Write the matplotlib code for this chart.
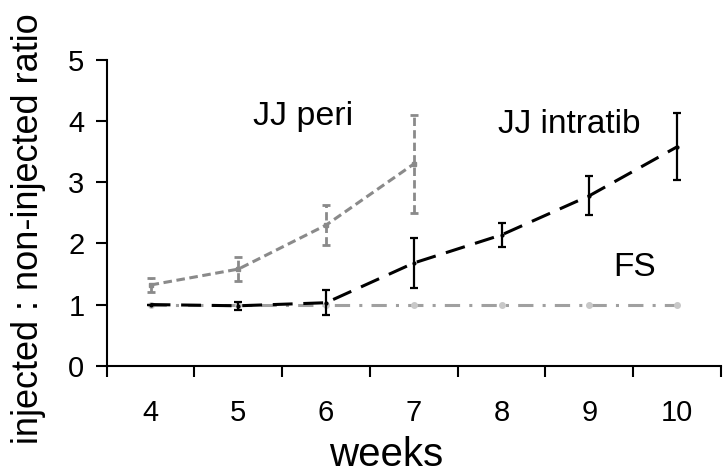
import matplotlib
matplotlib.use("Agg")
import matplotlib.pyplot as plt
import numpy as np

plt.rcParams['font.family'] = ['Liberation Sans', 'DejaVu Sans']

weeks = ["4", "5", "6", "7", "8", "9", "10"]

peri_weeks = [4, 5, 6, 7]
peri_vals = [1.32, 1.58, 2.30, 3.30]
peri_err = [0.12, 0.20, 0.33, 0.80]

intra_weeks = [4, 5, 6, 7, 8, 9, 10]
intra_vals = [1.00, 0.98, 1.03, 1.68, 2.14, 2.78, 3.58]
intra_err = [0.0, 0.07, 0.20, 0.41, 0.20, 0.32, 0.55]

fs_weeks = [4, 5, 6, 7, 8, 9, 10]
fs_vals = [1.0, 1.0, 1.0, 1.0, 1.0, 1.0, 1.0]

fig = plt.figure(figsize=(7.23, 4.73), dpi=100)
ax = fig.add_axes([106.7/723, 1-365.7/473, (721-106.7)/723, (365.7-60)/473])

def xpos(w):
    return np.array(w) - 4

# FS
ax.plot(xpos(fs_weeks), fs_vals, color='#a0a0a0', lw=2.2, dashes=(5, 3, 1, 3),
        marker='o', ms=4, mfc='#c8c8c8', mec='#c8c8c8', zorder=2)

# JJ intratib
ax.errorbar(xpos(intra_weeks), intra_vals, yerr=intra_err, color='black', lw=2.2,
            dashes=(6.5, 3.5), elinewidth=1.6, capsize=3, capthick=1.6,
            marker='o', ms=2, zorder=3)

# JJ peri
eb = ax.errorbar(xpos(peri_weeks), peri_vals, yerr=peri_err, color='#8a8a8a', lw=2.2,
                 dashes=(2.8, 1.5), elinewidth=2.0, capsize=3, capthick=2.0,
                 marker='s', ms=3, zorder=4)
for lc in eb[2]:
    lc.set_linestyle((0, (3, 1.5)))

ax.set_xlim(-0.5, 6.5)
ax.set_ylim(0, 5)
ax.set_yticks([0, 1, 2, 3, 4, 5])
ax.set_xticks(np.arange(7))
ax.set_xticklabels(weeks)
ax.set_xticks(np.arange(-0.5, 7.0, 1.0), minor=True)
ax.tick_params(axis='x', which='major', length=0, labelsize=21, pad=24)
ax.tick_params(axis='x', which='minor', length=8, width=1.5, direction='out')
ax.tick_params(axis='y', length=8, width=1.5, direction='out', labelsize=21, pad=8)

for s in ['top', 'right']:
    ax.spines[s].set_visible(False)
for s in ['left', 'bottom']:
    ax.spines[s].set_linewidth(1.5)

fig.text(386/723, 1-466/473, 'weeks', fontsize=29, ha='center', va='baseline')
fig.text(29/723, 1-229/473, 'injected : non-injected ratio', fontsize=26,
         rotation=90, ha='center', va='center')

ax.text(1.74, 4.07, 'JJ peri', fontsize=24.5, ha='center', va='center')
ax.text(4.77, 3.94, 'JJ intratib', fontsize=24, ha='center', va='center')
ax.text(5.52, 1.60, 'FS', fontsize=24, ha='center', va='center')

fig.savefig('out.png', dpi=100)
